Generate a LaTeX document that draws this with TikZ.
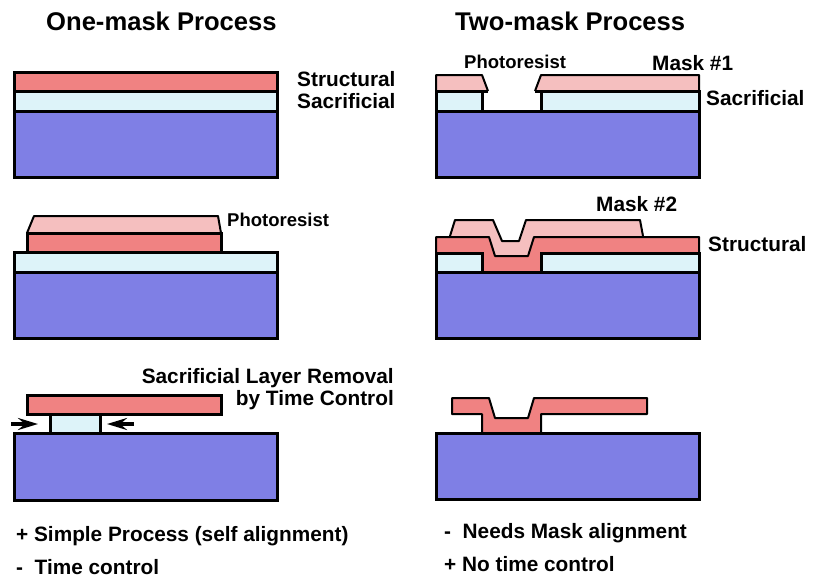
\documentclass[tikz,border=0pt]{standalone}
\usepackage{fontspec}
\setmainfont{Liberation Sans}
\usetikzlibrary{arrows.meta}
\definecolor{substratefill}{HTML}{7F7FE5}
\definecolor{structfill}{HTML}{F08282}
\definecolor{sacfill}{HTML}{DDF3F9}
\definecolor{resistfill}{HTML}{F5BFBF}
\tikzset{
  heavy/.style={draw=black,line width=3pt,line join=miter},
  light/.style={draw=black,line width=2pt,line join=round},
  substrate/.style={heavy,fill=substratefill},
  structlayer/.style={heavy,fill=structfill},
  saclayer/.style={heavy,fill=sacfill},
  resist/.style={fill=resistfill},
  title/.style={anchor=base west,inner sep=0pt,font=\fontsize{25.6}{30}\selectfont\bfseries},
  lbl/.style={anchor=base west,inner sep=0pt,font=\fontsize{20.8}{24}\selectfont\bfseries},
  smalllbl/.style={anchor=base west,inner sep=0pt,font=\fontsize{18.5}{23}\selectfont\bfseries},
  etch/.style={line width=3.2pt,-{Stealth[length=20pt,width=12pt,inset=7pt]}}
}
\begin{document}
\begin{tikzpicture}[x=1pt,y=-1pt]
\useasboundingbox (0,0) rectangle (818,579);
% headings
\node[title] (t1) at (46,30) {One-mask Process};
\node[title] (t2) at (455,30) {Two-mask Process};

% one-mask, first step
\draw[structlayer] (14,72) rectangle (277,91);
\draw[saclayer] (14,91) rectangle (277,111);
\draw[substrate] (14,111) rectangle (277,177);
\node[lbl] (a1) at (297,86) {Structural};
\node[lbl] (a2) at (297,108) {Sacrificial};

% one-mask, second step
\draw[resist] (27,233) -- (34,216) -- (218,216) -- (221,233) -- cycle;
\draw[light] (27,233) -- (34,216) -- (218,216) -- (221,233);
\draw[structlayer] (27,233) rectangle (221,252);
\draw[saclayer] (14,252) rectangle (277,272);
\draw[substrate] (14,272) rectangle (277,338);
\node[smalllbl] (b1) at (227,226) {Photoresist};

% one-mask, third step
\draw[saclayer] (50,414) rectangle (100,433);
\draw[structlayer] (27,395) rectangle (221,414);
\draw[substrate] (14,433) rectangle (277,500);
\coordinate (e1) at (11,424);
\coordinate (e2) at (38,424);
\coordinate (e3) at (134,424);
\coordinate (e4) at (107,424);
\draw[etch] (e1) -- (e2);
\draw[etch] (e3) -- (e4);
\node[lbl,anchor=base east] (c1) at (394,383) {Sacrificial Layer Removal};
\node[lbl,anchor=base east] (c2) at (394,405) {by Time Control};

% two-mask, first step
\draw[resist] (436,91) -- (436,75) -- (482,75) -- (488,91) -- cycle;
\draw[resist] (535,91) -- (541,75) -- (699,75) -- (699,91) -- cycle;
\draw[light] (436,91) -- (436,75) -- (482,75) -- (488,91);
\draw[light] (535,91) -- (541,75) -- (699,75) -- (699,91);
\draw[saclayer] (436,91) rectangle (482,111);
\draw[saclayer] (541,91) rectangle (699,111);
\draw[line width=3pt] (488,91) -- (482,91);
\draw[line width=3pt] (535,91) -- (541,91);
\draw[substrate] (436,111) rectangle (699,177);
\node[smalllbl] (d1) at (464,68) {Photoresist};
\node[lbl] (d2) at (652,70) {Mask \#1};
\node[lbl] (d3) at (706,105) {Sacrificial};

% two-mask, second step
\draw[resist] (450,237) -- (455,220) -- (493,220) -- (502,241) -- (519,241) -- (526,220) -- (640,220) -- (643,237) -- (534,237) -- (528,256) -- (495,256) -- (489,237) -- cycle;
\draw[light] (450,236) -- (455,220) -- (493,220) -- (502,241) -- (519,241) -- (526,220) -- (640,220) -- (643,236);
\draw[light,fill=structfill] (436,253) -- (436,237) -- (489,237) -- (495,256) -- (528,256) -- (534,237) -- (699,237) -- (699,253) -- (541,253) -- (541,272) -- (482,272) -- (482,253) -- cycle;
\draw[saclayer] (436,253) rectangle (482,272);
\draw[saclayer] (541,253) rectangle (699,272);
\draw[substrate] (436,272) rectangle (699,338);
\node[lbl] (f1) at (596,211) {Mask \#2};
\node[lbl] (f2) at (708,251) {Structural};

% two-mask, third step
\draw[light,fill=structfill] (452,398) -- (489,398) -- (495,418) -- (528,418) -- (534,398) -- (647,398) -- (647,414) -- (541,414) -- (541,433) -- (482,433) -- (482,414) -- (452,414) -- cycle;
\draw[substrate] (436,433) rectangle (699,499);

% summary lines
\node[lbl] (g1) at (16,541) {+ Simple Process (self alignment)};
\node[lbl] (g2) at (16,574) {-\ \ Time control};
\node[lbl] (h1) at (444,538) {-\ \ Needs Mask alignment};
\node[lbl] (h2) at (444,571) {+ No time control};
\end{tikzpicture}
\end{document}
